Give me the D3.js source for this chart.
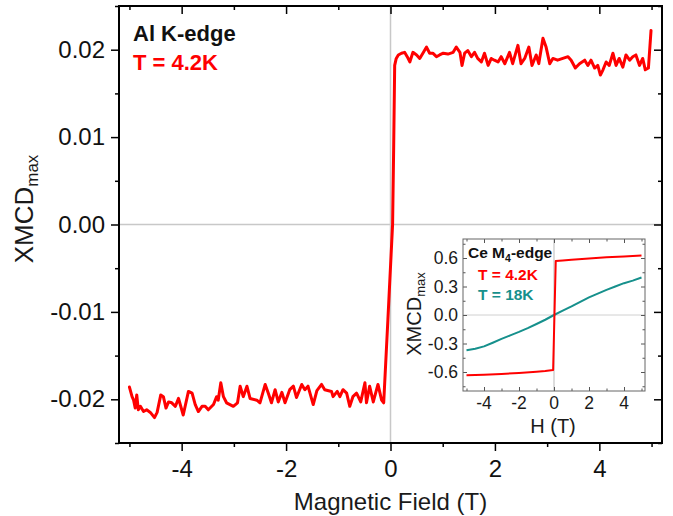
<!DOCTYPE html>
<html>
<head>
<meta charset="utf-8">
<script src="https://cdn.jsdelivr.net/npm/d3@7"></script>
<style>
  html, body { margin: 0; padding: 0; background: #fff; }
  svg { display: block; font-family: "Liberation Sans", Arial, sans-serif; }
</style>
</head>
<body>
<svg id="chart" width="673" height="516"></svg>
<script>
// Al K-edge XMCD maximum vs. magnetic field, T = 4.2 K
const alField = [-5.00,-4.95,-4.92,-4.89,-4.86,-4.83,-4.79,-4.73,-4.67,-4.60,-4.52,-4.47,-4.40,-4.35,-4.30,-4.25,-4.19,-4.12,-4.06,-3.97,-3.87,-3.80,-3.74,-3.68,-3.61,-3.55,-3.49,-3.39,-3.33,-3.30,-3.25,-3.20,-3.14,-3.01,-2.93,-2.88,-2.82,-2.75,-2.69,-2.56,-2.50,-2.40,-2.34,-2.28,-2.21,-2.15,-2.08,-2.02,-1.93,-1.86,-1.80,-1.70,-1.64,-1.58,-1.48,-1.41,-1.32,-1.26,-1.13,-1.10,-1.02,-0.97,-0.91,-0.84,-0.78,-0.72,-0.65,-0.57,-0.49,-0.46,-0.40,-0.33,-0.24,-0.17,-0.13,-0.05,0.04,0.06,0.08,0.11,0.15,0.21,0.27,0.32,0.37,0.43,0.50,0.56,0.62,0.69,0.75,0.81,0.88,0.94,1.01,1.10,1.20,1.26,1.33,1.37,1.42,1.48,1.55,1.61,1.67,1.74,1.80,1.87,1.93,1.99,2.06,2.12,2.19,2.28,2.34,2.44,2.50,2.57,2.65,2.71,2.79,2.84,2.92,2.98,3.05,3.11,3.20,3.30,3.40,3.46,3.54,3.62,3.72,3.78,3.84,3.91,3.97,4.02,4.07,4.13,4.19,4.26,4.32,4.38,4.45,4.51,4.58,4.64,4.70,4.77,4.83,4.88,4.94,4.99];
const alXmcd = [-0.0186,-0.0197,-0.0201,-0.0210,-0.0195,-0.0212,-0.0208,-0.0214,-0.0212,-0.0215,-0.0221,-0.0215,-0.0195,-0.0197,-0.0210,-0.0203,-0.0204,-0.0208,-0.0199,-0.0218,-0.0191,-0.0193,-0.0206,-0.0214,-0.0208,-0.0208,-0.0212,-0.0206,-0.0197,-0.0201,-0.0181,-0.0197,-0.0204,-0.0208,-0.0204,-0.0185,-0.0197,-0.0185,-0.0199,-0.0201,-0.0204,-0.0183,-0.0193,-0.0204,-0.0189,-0.0203,-0.0192,-0.0204,-0.0189,-0.0185,-0.0198,-0.0183,-0.0189,-0.0185,-0.0206,-0.0190,-0.0183,-0.0189,-0.0191,-0.0197,-0.0191,-0.0197,-0.0189,-0.0193,-0.0208,-0.0197,-0.0193,-0.0203,-0.0181,-0.0204,-0.0185,-0.0203,-0.0183,-0.0201,-0.0204,-0.0109,0.0000,0.0085,0.0182,0.0190,0.0194,0.0196,0.0197,0.0192,0.0186,0.0197,0.0194,0.0190,0.0196,0.0203,0.0196,0.0196,0.0192,0.0194,0.0196,0.0195,0.0197,0.0203,0.0197,0.0182,0.0196,0.0199,0.0192,0.0197,0.0190,0.0186,0.0196,0.0182,0.0190,0.0188,0.0186,0.0192,0.0184,0.0197,0.0184,0.0205,0.0184,0.0190,0.0203,0.0182,0.0194,0.0184,0.0213,0.0203,0.0184,0.0190,0.0188,0.0190,0.0192,0.0188,0.0179,0.0184,0.0188,0.0182,0.0188,0.0179,0.0182,0.0171,0.0177,0.0186,0.0182,0.0196,0.0182,0.0190,0.0180,0.0194,0.0188,0.0192,0.0194,0.0182,0.0190,0.0177,0.0179,0.0222];

// Ce M4-edge XMCD maximum vs. H at 4.2 K and 18 K
const ceField42 = [-5, -4, -3, -2, -1, -0.5, -0.05, 0.1, 0.5, 1, 2, 3, 4, 5];
const ceXmcd42 = [-0.635, -0.628, -0.620, -0.610, -0.598, -0.590, -0.580, 0.568, 0.574, 0.582, 0.595, 0.607, 0.617, 0.626];
const ceField18 = [-5, -4.5, -4, -3.5, -3, -2.5, -2, -1.5, -1, -0.5, 0, 0.5, 1, 1.5, 2, 2.5, 3, 3.5, 4, 4.5, 5];
const ceXmcd18 = [-0.370, -0.355, -0.330, -0.292, -0.252, -0.215, -0.178, -0.138, -0.095, -0.050, 0.000, 0.045, 0.090, 0.138, 0.185, 0.225, 0.265, 0.300, 0.335, 0.362, 0.395];

// Tick values
const mainXTicks = [-4, -2, 0, 2, 4];
const mainXMinor = [-5, -3, -1, 1, 3, 5];
const mainYTicks = [-0.02, -0.01, 0.00, 0.01, 0.02];
const mainYMinor = [-0.025, -0.015, -0.005, 0.005, 0.015, 0.025];
const insetXTicks = [-4, -2, 0, 2, 4];
const insetXMinor = [-5, -3, -1, 1, 3, 5];
const insetYTicks = [-0.6, -0.3, 0.0, 0.3, 0.6];
const insetYMinor = [-0.75, -0.45, -0.15, 0.15, 0.45, 0.75];

const RED = "#ff0000";
const TEAL = "#16908c";
const FONT = "Liberation Sans, Arial, sans-serif";

const svg = d3.select("#chart");

// ---------- main panel ----------
const M = { left: 119, right: 662, top: 6, bottom: 443 };
const x = d3.scaleLinear().domain([-5.2, 5.2]).range([M.left, M.right]);
const y = d3.scaleLinear().domain([-0.025, 0.025]).range([M.bottom, M.top]);

const main = svg.append("g");

// zero guides
main.append("line").attr("x1", M.left).attr("x2", M.right)
  .attr("y1", y(0)).attr("y2", y(0)).attr("stroke", "#c8c8c8").attr("stroke-width", 1.5);
main.append("line").attr("x1", x(0)).attr("x2", x(0))
  .attr("y1", M.top).attr("y2", M.bottom).attr("stroke", "#c8c8c8").attr("stroke-width", 1.5);

// data
const alPts = alField.map((f, i) => [f, alXmcd[i]]);
main.append("path").datum(alPts)
  .attr("fill", "none").attr("stroke", RED).attr("stroke-width", 3)
  .attr("stroke-linejoin", "round").attr("stroke-linecap", "round")
  .attr("d", d3.line().x(d => x(d[0])).y(d => y(d[1])));

function styleAxis(g, w) {
  g.select(".domain").remove();
  g.selectAll(".tick line").attr("stroke", "#000").attr("stroke-width", w);
}
const minus = s => s.replace("\u2212", "-");

// bottom (outward)
main.append("g").attr("transform", `translate(0,${M.bottom})`)
  .call(d3.axisBottom(x).tickValues(mainXTicks).tickSize(8).tickPadding(9).tickFormat(d => String(d)))
  .call(g => styleAxis(g, 1.5))
  .call(g => g.selectAll("text").attr("font-size", 24).attr("fill", "#111").attr("font-family", FONT));
main.append("g").attr("transform", `translate(0,${M.bottom})`)
  .call(d3.axisBottom(x).tickValues(mainXMinor).tickSize(4).tickFormat(""))
  .call(g => styleAxis(g, 1.5));
// top (inward)
main.append("g").attr("transform", `translate(0,${M.top})`)
  .call(d3.axisBottom(x).tickValues(mainXTicks).tickSize(8).tickFormat(""))
  .call(g => styleAxis(g, 1.5));
main.append("g").attr("transform", `translate(0,${M.top})`)
  .call(d3.axisBottom(x).tickValues(mainXMinor).tickSize(4).tickFormat(""))
  .call(g => styleAxis(g, 1.5));
// left (outward)
main.append("g").attr("transform", `translate(${M.left},0)`)
  .call(d3.axisLeft(y).tickValues(mainYTicks).tickSize(8).tickPadding(6).tickFormat(d => minus(d3.format(".2f")(d))))
  .call(g => styleAxis(g, 1.5))
  .call(g => g.selectAll("text").attr("font-size", 24).attr("fill", "#111").attr("font-family", FONT));
main.append("g").attr("transform", `translate(${M.left},0)`)
  .call(d3.axisLeft(y).tickValues(mainYMinor).tickSize(4).tickFormat(""))
  .call(g => styleAxis(g, 1.5));
// right (inward)
main.append("g").attr("transform", `translate(${M.right},0)`)
  .call(d3.axisLeft(y).tickValues(mainYTicks).tickSize(8).tickFormat(""))
  .call(g => styleAxis(g, 1.5));
main.append("g").attr("transform", `translate(${M.right},0)`)
  .call(d3.axisLeft(y).tickValues(mainYMinor).tickSize(4).tickFormat(""))
  .call(g => styleAxis(g, 1.5));

// frame
main.append("rect").attr("x", M.left).attr("y", M.top)
  .attr("width", M.right - M.left).attr("height", M.bottom - M.top)
  .attr("fill", "none").attr("stroke", "#000").attr("stroke-width", 2);

// axis titles
main.append("text").attr("x", (M.left + M.right) / 2).attr("y", 510)
  .attr("text-anchor", "middle").attr("font-size", 24).attr("fill", "#1a1a1a")
  .text("Magnetic Field (T)");
const yt = main.append("text").attr("transform", `translate(33,209) rotate(-90)`)
  .attr("text-anchor", "middle").attr("font-size", 26).attr("fill", "#1a1a1a");
yt.append("tspan").text("XMCD");
yt.append("tspan").attr("font-size", 17).attr("dy", 5).text("max");

// annotations
main.append("text").attr("x", 133).attr("y", 41).attr("font-size", 22)
  .attr("font-weight", "bold").attr("fill", "#111").text("Al K-edge");
main.append("text").attr("x", 133).attr("y", 70).attr("font-size", 22)
  .attr("font-weight", "bold").attr("fill", RED).text("T = 4.2K");

// ---------- inset ----------
const I = { left: 463, right: 645, top: 239, bottom: 391 };
const xi = d3.scaleLinear().domain([-5.2, 5.2]).range([I.left, I.right]);
const yi = d3.scaleLinear().domain([-0.8, 0.8]).range([I.bottom, I.top]);
const inset = svg.append("g");

inset.append("rect").attr("x", I.left).attr("y", I.top)
  .attr("width", I.right - I.left).attr("height", I.bottom - I.top)
  .attr("fill", "#fff");
inset.append("line").attr("x1", I.left).attr("x2", I.right)
  .attr("y1", yi(0)).attr("y2", yi(0)).attr("stroke", "#d0d0d0").attr("stroke-width", 1);
inset.append("line").attr("x1", xi(0)).attr("x2", xi(0))
  .attr("y1", I.top).attr("y2", I.bottom).attr("stroke", "#d0d0d0").attr("stroke-width", 1.5);

const ceLine = d3.line().x(d => xi(d[0])).y(d => yi(d[1]));
inset.append("path").datum(ceField18.map((f, i) => [f, ceXmcd18[i]]))
  .attr("fill", "none").attr("stroke", TEAL).attr("stroke-width", 2)
  .attr("stroke-linejoin", "round").attr("d", ceLine);
inset.append("path").datum(ceField42.map((f, i) => [f, ceXmcd42[i]]))
  .attr("fill", "none").attr("stroke", RED).attr("stroke-width", 2)
  .attr("stroke-linejoin", "round").attr("d", ceLine);

function insetTicks(axisFn, scale, vals, size, pos) {
  const g = inset.append("g").attr("transform", pos)
    .call(axisFn(scale).tickValues(vals).tickSize(size).tickFormat(""));
  g.select(".domain").remove();
  g.selectAll(".tick line").attr("stroke", "#555").attr("stroke-width", 1);
  return g;
}
// all inset ticks point inward
insetTicks(d3.axisTop, xi, insetXTicks, 4, `translate(0,${I.bottom})`);
insetTicks(d3.axisTop, xi, insetXMinor, 2.5, `translate(0,${I.bottom})`);
insetTicks(d3.axisBottom, xi, insetXTicks, 4, `translate(0,${I.top})`);
insetTicks(d3.axisBottom, xi, insetXMinor, 2.5, `translate(0,${I.top})`);
insetTicks(d3.axisRight, yi, insetYTicks, 4, `translate(${I.left},0)`);
insetTicks(d3.axisRight, yi, insetYMinor, 2.5, `translate(${I.left},0)`);
insetTicks(d3.axisLeft, yi, insetYTicks, 4, `translate(${I.right},0)`);
insetTicks(d3.axisLeft, yi, insetYMinor, 2.5, `translate(${I.right},0)`);

// inset tick labels
inset.append("g").selectAll("text").data(insetXTicks).join("text")
  .attr("x", d => xi(d)).attr("y", 409).attr("text-anchor", "middle")
  .attr("font-size", 17.5).attr("fill", "#1a1a1a")
  .text(d => String(d));
inset.append("g").selectAll("text").data(insetYTicks).join("text")
  .attr("x", 458).attr("y", d => yi(d)).attr("dy", "0.35em").attr("text-anchor", "end")
  .attr("font-size", 17.5).attr("fill", "#1a1a1a")
  .text(d => minus(d3.format(".1f")(d)));

inset.append("rect").attr("x", I.left).attr("y", I.top)
  .attr("width", I.right - I.left).attr("height", I.bottom - I.top)
  .attr("fill", "none").attr("stroke", "#666").attr("stroke-width", 1);

inset.append("text").attr("x", (I.left + I.right) / 2 - 1).attr("y", 433)
  .attr("text-anchor", "middle").attr("font-size", 20).attr("fill", "#1a1a1a").text("H (T)");
const yti = inset.append("text").attr("transform", `translate(421,314) rotate(-90)`)
  .attr("text-anchor", "middle").attr("font-size", 20).attr("fill", "#1a1a1a");
yti.append("tspan").text("XMCD");
yti.append("tspan").attr("font-size", 13).attr("dy", 4).text("max");

const ceTitle = inset.append("text").attr("x", 468).attr("y", 258)
  .attr("font-size", 15.5).attr("font-weight", "bold").attr("fill", "#111");
ceTitle.append("tspan").text("Ce M");
ceTitle.append("tspan").attr("font-size", 10.5).attr("dy", 4).text("4");
ceTitle.append("tspan").attr("dy", -4).text("-edge");
inset.append("text").attr("x", 478).attr("y", 280).attr("font-size", 15.5)
  .attr("font-weight", "bold").attr("fill", RED).text("T = 4.2K");
inset.append("text").attr("x", 478).attr("y", 300).attr("font-size", 15.5)
  .attr("font-weight", "bold").attr("fill", TEAL).text("T = 18K");
</script>
</body>
</html>
